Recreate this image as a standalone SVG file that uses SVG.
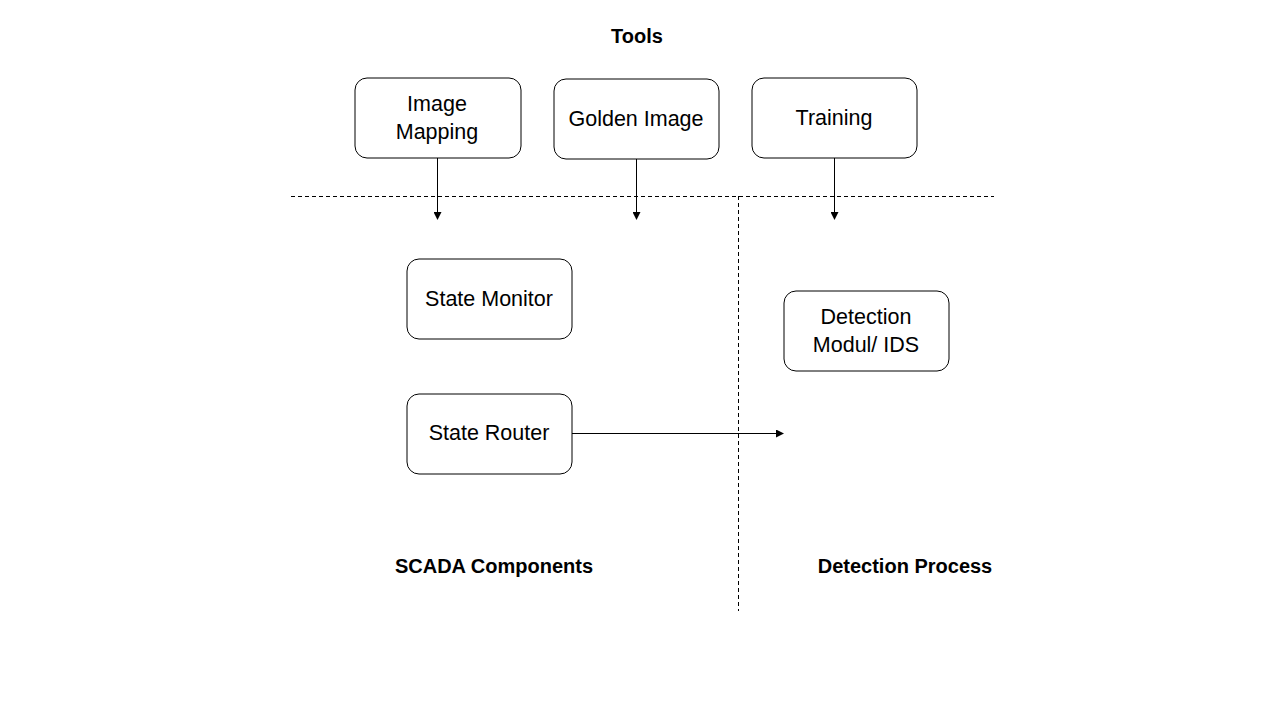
<svg xmlns="http://www.w3.org/2000/svg" width="1280" height="720" viewBox="0 0 1280 720">
<defs>
<style>
.box{fill:#fff;stroke:#000;stroke-width:1}
.t{font-family:"Liberation Sans",Arial,sans-serif;font-size:21.5px;fill:#000;text-anchor:middle}
.b{font-family:"Liberation Sans",Arial,sans-serif;font-size:20px;font-weight:bold;fill:#000;text-anchor:middle}
.dash{stroke:#000;stroke-width:1;stroke-dasharray:4 3;fill:none}
.arr{stroke:#000;stroke-width:1;fill:none;marker-end:url(#ah)}
</style>
<marker id="ah" markerWidth="8" markerHeight="8" refX="7" refY="4" orient="auto" markerUnits="userSpaceOnUse">
<path d="M0,0 L8,4 L0,8 Z" fill="#000"/>
</marker>
</defs>
<rect width="1280" height="720" fill="#fff"/>
<g id="labels">
<text class="b" x="637" y="43">Tools</text>
<text class="b" x="494" y="573">SCADA Components</text>
<text class="b" x="905" y="573">Detection Process</text>
</g>
<g id="connectors">
<line class="dash" x1="291" y1="196.5" x2="994" y2="196.5"/>
<line class="dash" x1="738.5" y1="196" x2="738.5" y2="611"/>
<line class="arr" x1="437.5" y1="158" x2="437.5" y2="219"/>
<line class="arr" x1="636.5" y1="159" x2="636.5" y2="219"/>
<line class="arr" x1="834.5" y1="158" x2="834.5" y2="219"/>
<line class="arr" x1="572" y1="433.5" x2="783" y2="433.5"/>
</g>
<g id="image-mapping">
<rect class="box" x="355" y="78" width="166" height="80" rx="12"/>
<text class="t" x="437" y="111">Image</text>
<text class="t" x="437" y="139">Mapping</text>
</g>
<g id="golden-image">
<rect class="box" x="554" y="79" width="165" height="80" rx="12"/>
<text class="t" x="636" y="126">Golden Image</text>
</g>
<g id="training">
<rect class="box" x="752" y="78" width="165" height="80" rx="12"/>
<text class="t" x="834" y="125">Training</text>
</g>
<g id="state-monitor">
<rect class="box" x="407" y="259" width="165" height="80" rx="12"/>
<text class="t" x="489" y="306">State Monitor</text>
</g>
<g id="state-router">
<rect class="box" x="407" y="394" width="165" height="80" rx="12"/>
<text class="t" x="489" y="440">State Router</text>
</g>
<g id="detection-modul">
<rect class="box" x="784" y="291" width="165" height="80" rx="12"/>
<text class="t" x="866" y="324">Detection</text>
<text class="t" x="866" y="352">Modul/ IDS</text>
</g>
</svg>
